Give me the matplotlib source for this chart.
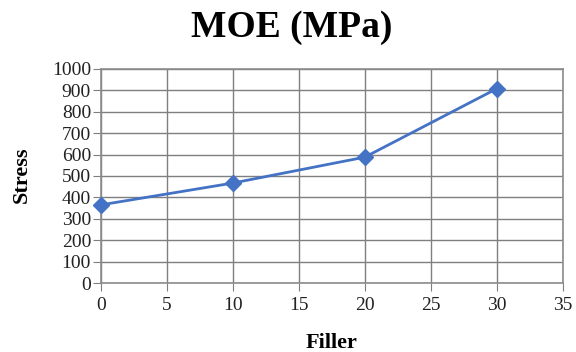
import numpy as np
import matplotlib.pyplot as plt

plt.rcParams['font.family'] = ['Liberation Serif', 'DejaVu Serif']

filler = [0, 10, 20, 30]
stress = [365, 467, 588, 908]
x_ticks = [0, 5, 10, 15, 20, 25, 30, 35]
y_ticks = list(range(0, 1001, 100))

fig = plt.figure(figsize=(5.76, 3.52), dpi=100)
ax = fig.add_axes([0.175, 0.196, 0.802, 0.608])

ax.plot(filler, stress, '-D', color='#4472C4', lw=2, ms=8, clip_on=False, zorder=3)

ax.set_xlim(0, 35)
ax.set_ylim(0, 1000)
ax.set_xticks(x_ticks)
ax.set_yticks(y_ticks)
ax.grid(True, color='#7f7f7f', lw=1)
ax.set_axisbelow(True)
for s in ax.spines.values():
    s.set_color('#8c8c8c')
    s.set_linewidth(1.2)
ax.tick_params(axis='both', colors='#7f7f7f', length=6, labelcolor='#222222', labelsize=14)
ax.tick_params(axis='x', pad=4)
ax.tick_params(axis='y', pad=1)

# title / axis labels placed on the figure
fig.text(0.507, 0.895, 'MOE (MPa)', fontsize=27, fontweight='bold', ha='center', va='baseline')
fig.text(0.576, 0.012, 'Filler', fontsize=16, fontweight='bold', ha='center', va='baseline')
fig.text(0.038, 0.503, 'Stress', fontsize=16, fontweight='bold', ha='center', va='center', rotation=90)

fig.savefig('out.png', dpi=100)
